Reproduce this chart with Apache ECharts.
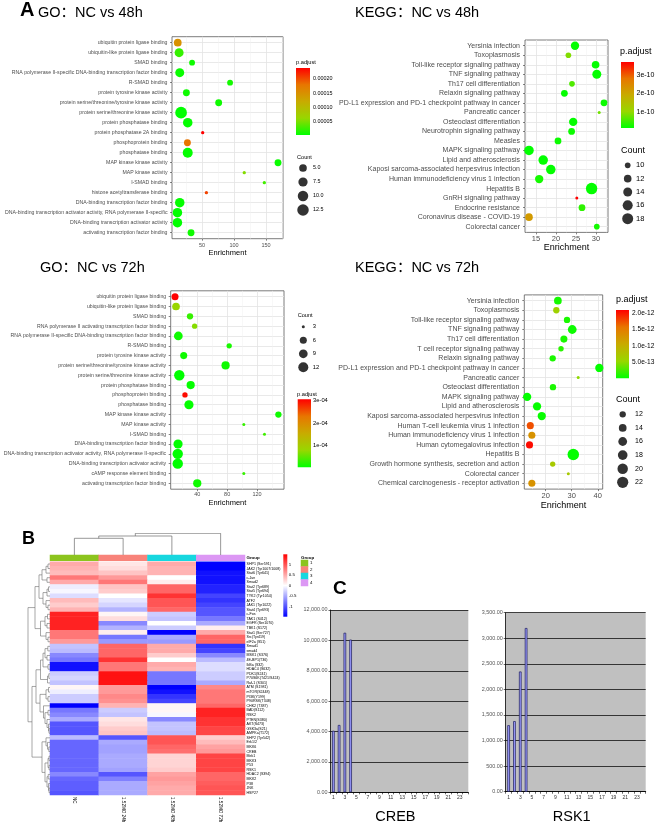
<!DOCTYPE html>
<html><head><meta charset="utf-8">
<script src="https://cdn.jsdelivr.net/npm/echarts@6/dist/echarts.min.js"></script>
<style>html,body{margin:0;padding:0;background:#fff}#c{width:659px;height:826px}</style>
</head><body><div id="c"></div>
<script>
// ---------------- DATA ----------------
const go48Terms = ['ubiquitin protein ligase binding','ubiquitin-like protein ligase binding','SMAD binding','RNA polymerase II-specific DNA-binding transcription factor binding','R-SMAD binding','protein tyrosine kinase activity','protein serine/threonine/tyrosine kinase activity','protein serine/threonine kinase activity','protein phosphatase binding','protein phosphatase 2A binding','phosphoprotein binding','phosphatase binding','MAP kinase kinase activity','MAP kinase activity','I-SMAD binding','histone acetyltransferase binding','DNA-binding transcription factor binding','DNA-binding transcription activator activity, RNA polymerase II-specific','DNA-binding transcription activator activity','activating transcription factor binding'];
const go48Enrich = [12.0,14.1,34.4,15.1,93.8,25.5,76,17.2,27.6,51,27.1,27.6,168.8,116,147.4,56.8,15.1,11.5,11.5,32.8];
const go48Count = [5,7,3,7,3,4,4,13,8,2,4,9,4,2,2,2,8,8,8,4];
const go48Padj = [1.5e-4,2.5e-5,1.0e-5,8e-6,1.2e-5,1e-5,1e-5,5e-6,6e-6,2.38e-4,1.8e-4,6e-6,8e-6,5.5e-5,3e-5,2.05e-4,6e-6,5e-6,5e-6,1e-5];
const go48XTicks = [50,100,150];
const go48PBreaks = [0.00005,0.0001,0.00015,0.0002];
const go48PLabels = ['0.00005','0.00010','0.00015','0.00020'];
const go48CountBreaks = [5,7.5,10,12.5];
const go48CountLabels = ['5.0','7.5','10.0','12.5'];

const kegg48Terms = ['Yersinia infection','Toxoplasmosis','Toll-like receptor signaling pathway','TNF signaling pathway','Th17 cell differentiation','Relaxin signaling pathway','PD-L1 expression and PD-1 checkpoint pathway in cancer','Pancreatic cancer','Osteoclast differentiation','Neurotrophin signaling pathway','Measles','MAPK signaling pathway','Lipid and atherosclerosis','Kaposi sarcoma-associated herpesvirus infection','Human immunodeficiency virus 1 infection','Hepatitis B','GnRH signaling pathway','Endocrine resistance','Coronavirus disease - COVID-19','Colorectal cancer'];
const kegg48Enrich = [24.75,23.1,29.9,30.2,24.0,22.1,32.0,30.8,24.3,23.9,20.5,13.25,16.8,18.7,15.8,28.9,25.2,26.5,13.25,30.2];
const kegg48Count = [13,10,12,14,10,11,11,9,13,11,11,15,15,15,13,19,9,11,12,10];
const kegg48Padj = [1.5e-11,9e-11,1.5e-11,1.5e-11,6e-11,1.5e-11,2e-11,8e-11,1.5e-11,2e-11,2e-11,1.4e-11,1.4e-11,1.5e-11,2.5e-11,1.5e-11,3.7e-10,4e-11,2.2e-10,2.5e-11];
const kegg48XTicks = [15,20,25,30];
const kegg48PBreaks = [1e-10,2e-10,3e-10];
const kegg48PLabels = ['1e-10','2e-10','3e-10'];
const kegg48CountBreaks = [10,12,14,16,18];
const kegg48CountLabels = ['10','12','14','16','18'];

const go72Terms = ['ubiquitin protein ligase binding','ubiquitin-like protein ligase binding','SMAD binding','RNA polymerase II activating transcription factor binding','RNA polymerase II-specific DNA-binding transcription factor binding','R-SMAD binding','protein tyrosine kinase activity','protein serine/threonine/tyrosine kinase activity','protein serine/threonine kinase activity','protein phosphatase binding','phosphoprotein binding','phosphatase binding','MAP kinase kinase activity','MAP kinase activity','I-SMAD binding','DNA-binding transcription factor binding','DNA-binding transcription activator activity, RNA polymerase II-specific','DNA-binding transcription activator activity','cAMP response element binding','activating transcription factor binding'];
const go72Enrich = [10.3,11.6,30.3,36.5,14.7,82.7,21.9,77.9,16.0,31.2,23.6,28.9,148.5,102.3,129.9,14.3,13.9,13.9,102.3,40.0];
const go72Count = [6,7,5,4,9,4,6,8,13,8,4,10,5,3,3,10,13,13,3,8];
const go72Padj = [3.07e-4,8e-5,3e-5,7e-5,1e-5,1.5e-5,1e-5,1e-5,3e-6,5e-6,3.0e-4,5e-6,1e-5,3e-5,3.5e-5,4e-6,3e-6,3e-6,3e-5,1e-5];
const go72XTicks = [40,80,120];
const go72PBreaks = [1e-4,2e-4,3e-4];
const go72PLabels = ['1e-04','2e-04','3e-04'];
const go72CountBreaks = [3,6,9,12];
const go72CountLabels = ['3','6','9','12'];

const kegg72Terms = ['Yersinia infection','Toxoplasmosis','Toll-like receptor signaling pathway','TNF signaling pathway','Th17 cell differentiation','T cell receptor signaling pathway','Relaxin signaling pathway','PD-L1 expression and PD-1 checkpoint pathway in cancer','Pancreatic cancer','Osteoclast differentiation','MAPK signaling pathway','Lipid and atherosclerosis','Kaposi sarcoma-associated herpesvirus infection','Human T-cell leukemia virus 1 infection','Human immunodeficiency virus 1 infection','Human cytomegalovirus infection','Hepatitis B','Growth hormone synthesis, secretion and action','Colorectal cancer','Chemical carcinogenesis - receptor activation'];
const kegg72Enrich = [24.7,24.1,28.2,30.2,27.0,25.9,22.7,40.6,32.5,22.8,12.9,16.7,18.5,14.1,14.7,13.8,30.6,22.7,28.7,14.7];
const kegg72Count = [14,12,12,16,13,11,12,15,10,12,15,15,15,13,13,13,23,11,10,13];
const kegg72Padj = [8e-14,6e-13,1e-13,5e-14,1e-13,1.5e-13,1e-13,2e-14,5e-13,1e-13,2e-14,3e-14,3e-14,1.75e-12,1.3e-12,2.05e-12,2e-14,7e-13,7e-13,1.3e-12];
const kegg72XTicks = [20,30,40];
const kegg72PBreaks = [5e-13,1e-12,1.5e-12,2e-12];
const kegg72PLabels = ['5.0e-13','1.0e-12','1.5e-12','2.0e-12'];
const kegg72CountBreaks = [12,14,16,18,20,22];
const kegg72CountLabels = ['12','14','16','18','20','22'];

const heatCols = ['NC','1.52MO 24h','1.52MO 48h','1.52MO 72h'];
const heatGroups = [1,2,3,4];
const heatRows = ['SHP1 (Ser591)','JAK2 (Tyr1007/1008)','Stat6 (Tyr641)','c-Jun','Smad2','Stat2 (Tyr689)','Stat5 (Tyr694)','TYK2 (Tyr1054)','ATF2','JAK1 (Tyr1022)','Stat4 (Tyr693)','c-Fos','TAK1 (S412)','EGFR (Ser1070)','TBK1 (S172)','Stat1 (Ser727)','Src(Tyr419)','eIF2a (S51)','Smad1','smad4','MSK1 (S376)','4E-BP1(T36)','IkBa (S32)','HDAC4 (S632)','PDK1(S241)','P70S6K(T421/S424)','Raf-1 (S301)','ATM (S1981)','mTOR(S2448)','PI3K(Y199)','P90RSK(T348)','CHK2 (T387)','BAD(S112)','RSK2','PTEN(S380)','AKT(S473)','GSK3a(S21)','AMPKa(T172)','SHP2 (Tyr542)','Erk1/2','MKK6','CREB','Mek1','MKK3','P53','RSK1','HDAC2 (S394)','MKK2','P38','JNK','HSP27'];
const heatNC  = [0.5,0.45,0.4,0.8,0.5,-0.1,-0.05,-0.2,0.4,0.3,0.45,1.3,1.3,1.3,1.3,0.8,0.8,0.6,-0.35,-0.4,-0.7,-0.8,-1.4,-1.4,-0.3,-0.25,-0.35,0.05,-0.1,-0.3,-0.3,-1.5,-0.8,-0.7,-0.5,-1.0,-1.0,-1.0,-0.4,-0.9,-0.9,-0.9,-0.9,-0.9,-0.9,-0.9,-0.7,-0.9,-0.95,-0.95,-1.0];
const heat24h = [0.15,0.2,0.35,0.6,0.8,0.35,0.3,0,-0.15,-0.25,-0.45,0.05,0.2,-0.7,-0.45,0.1,-0.8,-0.6,0.9,0.9,0.9,1.2,0.8,0.8,1.4,1.4,1.4,0.6,0.6,0.7,0.65,0.45,-0.3,-0.35,0.15,0.2,0.3,0.35,-1.0,-0.5,-0.55,-0.55,-0.5,-0.5,-0.5,-0.55,-1.0,-0.75,-0.5,-0.5,-0.5];
const heat48h = [0.5,0.45,0.45,0,0.1,0.9,0.9,1.2,1.0,1.0,0.9,-0.3,-0.35,0,-0.3,-1.5,-0.5,-0.6,0.5,0.5,0.3,0,0.5,0.45,-0.8,-0.8,-0.8,-1.5,-1.4,-1.2,-1.1,0.05,0.05,-0.05,-0.7,-0.35,-0.35,-0.4,1.0,1.0,0.9,0.85,0.25,0.25,0.25,0.3,0.55,0.6,0.55,0.5,0.5];
const heat72h = [-1.5,-1.5,-1.4,-1.4,-1.4,-1.3,-1.3,-1.1,-1.2,-1.1,-1.0,-1.0,-0.8,-0.5,0.1,0.5,0.9,0.9,-1.2,-1.1,-0.7,-0.4,-0.2,-0.2,-0.3,-0.3,-0.5,0.7,0.8,0.8,0.8,0.9,1.3,1.3,1.2,1.2,1.1,1.1,0.3,0.4,0.55,0.6,1.1,1.1,1.1,1.1,0.9,0.9,0.95,1.0,1.0];
const heatBreaks = [-1,-0.5,0,0.5,1];
// dendrograms: [height, left, right], leaves = row/column index
const colTree = [21.7,[19,[16.7,0,1],2],3];
const rowTree = [22,
  [15,[11,[8,[4,[2,0,1],2],[3,3,4]],[7,[3,[1.5,5,6],7],[4,8,[2,9,10]]]],[9.5,[5,[2.5,11,12],[3,13,14]],[4,15,[2,16,17]]]],
  [18,[14,[9.5,[7,[5,[2.2,18,19],[3,20,21]],[2,22,23]],[2.5,[1.2,24,25],26]],
            [10,[4,[1.5,27,28],[2,29,30]],[6.5,31,[5,[2,32,33],[3,34,[1.5,35,[1,36,37]]]]]]],
       [8,[4,38,[2.5,39,[1.2,40,41]]],[5,[2,[1,42,43],[1,44,45]],[3,[1.8,46,47],[1.5,48,[1,49,50]]]]]]];

const barCats = ['1','2','3','4','5','6','7','8','9','10','11','12','13','14','15','16','17','18','19','20','21','22','23','24'];
const crebValues = [4050,4430,10500,10050,null,null,null,null,null,null,null,null,null,null,null,null,null,null,null,null,null,null,null,null];
const rsk1Values = [1300,1380,2350,3200,null,null,null,null,null,null,null,null,null,null,null,null,null,null,null,null,null,null,null,null];

// ---------------- BUILD ----------------
const FAM = "'Liberation Sans','Noto Sans CJK SC',Arial,sans-serif";
const GR = ['#00ff00','#98d700','#c8ab00','#e87600','#ff0000'];
const GROUP_COLORS = ['#8cc41e','#f8837a','#17d7df','#dc97f4'];
const grids=[], xAxes=[], yAxes=[], series=[], visualMaps=[], graphics=[];
const addGrid=g=>{grids.push(g);return grids.length-1;};
const addX=a=>{xAxes.push(a);return xAxes.length-1;};
const addY=a=>{yAxes.push(a);return yAxes.length-1;};
const addS=s=>{series.push(s);return series.length-1;};
function txt(x,y,s,size,opt){
  opt=opt||{};
  graphics.push({type:'text',x:x,y:y,z:50,silent:true,style:{text:s,fontSize:size,fontFamily:FAM,fontWeight:opt.bold?'bold':'normal',fill:opt.color||'#000',
    align:opt.align||'left',verticalAlign:'middle',textAlign:opt.align||'left',textVerticalAlign:'middle'}});
}
function gradRect(stops){
  return (p,api)=>{
    const a=api.coord([0,api.value(2)]), b=api.coord([1,api.value(1)]);
    return {type:'rect',shape:{x:a[0],y:a[1],width:b[0]-a[0],height:b[1]-a[1]},
      style:{fill:new echarts.graphic.LinearGradient(0,1,0,0,stops.map((c,i)=>({offset:i/(stops.length-1),color:c})))}};
  };
}
function colorBar(o){
  const g=addGrid({left:o.l,top:o.t,width:o.w,height:o.h});
  const x=addX({gridIndex:g,type:'value',min:0,max:1,show:false});
  const nearest=v=>{let k=0,d=Infinity;o.breaks.forEach((b,i)=>{const e=Math.abs(b-v);if(e<d){d=e;k=i;}});return k;};
  const y=addY({gridIndex:g,type:'value',min:o.min,max:o.max,position:'right',axisLine:{show:false},
    axisTick:{show:o.ticks,inside:true,length:o.w*0.2,customValues:o.breaks,lineStyle:{color:'#fff',width:0.8}},
    axisLabel:{customValues:o.breaks,formatter:v=>o.labels[nearest(v)],fontSize:o.font,color:'#000',margin:o.margin,fontFamily:FAM},
    splitLine:{show:false}});
  if(o.ticks){
    addY({gridIndex:g,type:'value',min:o.min,max:o.max,position:'left',axisLine:{show:false},
      axisTick:{show:true,inside:true,length:o.w*0.2,customValues:o.breaks,lineStyle:{color:'#fff',width:0.8}},
      axisLabel:{show:false,customValues:o.breaks},splitLine:{show:false}});
  }
  addS({type:'custom',xAxisIndex:x,yAxisIndex:y,silent:true,z:1,data:[[0,o.min,o.max]],renderItem:gradRect(o.stops)});
}
function bubblePanel(o){
  const n=o.terms.length;
  const gi=addGrid({left:o.box[0],top:o.box[1],width:o.box[2]-o.box[0],height:o.box[3]-o.box[1],show:true,borderColor:'#5a5a5a',borderWidth:0.8,backgroundColor:'#fff'});
  const xi=addX({gridIndex:gi,type:'value',min:o.xMin,max:o.xMax,axisLine:{show:false},
    axisTick:{show:true,length:2,customValues:o.xMajor,lineStyle:{color:'#333',width:0.6}},
    axisLabel:{customValues:o.xMajor,fontSize:o.xFont,color:'#4d4d4d',margin:o.xMargin,fontFamily:FAM},
    splitLine:{show:true,lineStyle:{color:'#e3e3e3',width:0.8}},
    name:'Enrichment',nameLocation:'middle',nameGap:o.nameGap,nameTextStyle:{fontSize:o.nameFont,color:'#000',fontFamily:FAM}});
  addX({gridIndex:gi,type:'value',position:'top',min:o.xMin,max:o.xMax,axisLine:{show:false},
    axisTick:{show:false,customValues:o.xMinor},axisLabel:{show:false,customValues:o.xMinor},
    splitLine:{show:true,lineStyle:{color:'#f0f0f0',width:0.5}}});
  const rows=o.terms.map((t,i)=>i+1);
  const yi=addY({gridIndex:gi,type:'value',min:0.4,max:n+0.6,inverse:true,axisLine:{show:false},
    axisTick:{show:true,length:2,customValues:rows,lineStyle:{color:'#333',width:0.6}},
    axisLabel:{customValues:rows,formatter:v=>o.terms[Math.round(v)-1]||'',fontSize:o.yFont,color:'#4d4d4d',margin:o.yMargin,fontFamily:FAM},
    splitLine:{show:true,lineStyle:{color:'#e3e3e3',width:0.8}}});
  const cmin=Math.min(...o.count), cmax=Math.max(...o.count);
  const sz=c=>o.r0+(o.r1-o.r0)*Math.sqrt(Math.max(0,(c-cmin)/(cmax-cmin)));
  const si=addS({type:'scatter',xAxisIndex:xi,yAxisIndex:yi,z:5,
    data:o.terms.map((t,i)=>[o.enrich[i],i+1,o.count[i],o.padj[i]]),
    symbolSize:v=>sz(v[2]),itemStyle:{opacity:1}});
  visualMaps.push({type:'continuous',show:false,seriesIndex:si,dimension:3,min:o.pMin,max:o.pMax,inRange:{color:GR}});
  colorBar({l:o.cb[0],t:o.cb[1],w:o.cb[2],h:o.cb[3],min:o.pMin,max:o.pMax,breaks:o.pBreaks,labels:o.pLabels,font:o.cbFont,margin:o.cbMargin,stops:GR,ticks:true});
  txt(o.pTitle[0],o.pTitle[1],'p.adjust',o.pTitle[2]);
  const cl=o.cl, half=cl.labelX-cl.x-1;
  const lg=addGrid({left:cl.x-half,top:cl.y0-cl.dy/2,width:2*half,height:cl.dy*o.cBreaks.length});
  const lx=addX({gridIndex:lg,type:'value',min:-1,max:1,show:false});
  const ly=addY({gridIndex:lg,type:'category',data:o.cLabels,inverse:true,position:'right',axisLine:{show:false},axisTick:{show:false},
    axisLabel:{interval:0,fontSize:cl.font,color:'#000',margin:1,fontFamily:FAM},splitLine:{show:false}});
  addS({type:'scatter',xAxisIndex:lx,yAxisIndex:ly,data:o.cBreaks.map((c,i)=>[0,i,c]),symbolSize:v=>sz(v[2]),itemStyle:{color:'#000'},silent:true});
  txt(o.cTitle[0],o.cTitle[1],'Count',o.cTitle[2]);
}

// Panel titles
txt(20,10.5,'A',20,{bold:true});
txt(38,12.5,'GO：NC vs 48h',14.5);
txt(355,12.5,'KEGG：NC vs 48h',14.5);
txt(40,267.5,'GO：NC vs 72h',14.5);
txt(355,267.5,'KEGG：NC vs 72h',14.5);

bubblePanel({terms:go48Terms,enrich:go48Enrich,count:go48Count,padj:go48Padj,
  box:[172,36.7,283,238.7],xMin:3,xMax:176.6,xMajor:go48XTicks,xMinor:[25,75,125,175],
  yFont:5.2,yMargin:4.5,xFont:5.5,xMargin:4,nameFont:7.5,nameGap:10.5,r0:3.3,r1:11.7,
  pMin:4.5e-6,pMax:2.38e-4,cb:[296,68,14,67],pBreaks:go48PBreaks,pLabels:go48PLabels,cbFont:5.4,cbMargin:3,pTitle:[296,62,5.7],
  cBreaks:go48CountBreaks,cLabels:go48CountLabels,cl:{x:303,y0:168,dy:14,labelX:313,font:5.4},cTitle:[297,157,5.6]});

bubblePanel({terms:kegg48Terms,enrich:kegg48Enrich,count:kegg48Count,padj:kegg48Padj,
  box:[525,40,608,232.4],xMin:12.25,xMax:33,xMajor:kegg48XTicks,xMinor:[12.5,17.5,22.5,27.5,32.5],
  yFont:7,yMargin:5,xFont:7.5,xMargin:2.5,nameFont:9,nameGap:11,r0:3,r1:11.43,
  pMin:1.35e-11,pMax:3.7e-10,cb:[621,62,13,66],pBreaks:kegg48PBreaks,pLabels:kegg48PLabels,cbFont:7,cbMargin:2.5,pTitle:[620,52,9],
  cBreaks:kegg48CountBreaks,cLabels:kegg48CountLabels,cl:{x:627.7,y0:165.3,dy:13.35,labelX:636,font:7.5},cTitle:[621,151,9]});

bubblePanel({terms:go72Terms,enrich:go72Enrich,count:go72Count,padj:go72Padj,
  box:[170.7,290.8,284,489.2],xMin:4.5,xMax:156,xMajor:go72XTicks,xMinor:[20,60,100,140],
  yFont:5.2,yMargin:4.5,xFont:5.5,xMargin:3,nameFont:7.5,nameGap:10,r0:3,r1:10.4,
  pMin:3e-6,pMax:3.07e-4,cb:[297.7,399.3,13.3,68],pBreaks:go72PBreaks,pLabels:go72PLabels,cbFont:5.8,cbMargin:2,pTitle:[297,394,5.7],
  cBreaks:go72CountBreaks,cLabels:go72CountLabels,cl:{x:303.3,y0:326.7,dy:13.53,labelX:312.7,font:5.8},cTitle:[297.7,315.3,5.6]});

bubblePanel({terms:kegg72Terms,enrich:kegg72Enrich,count:kegg72Count,padj:kegg72Padj,
  box:[524.3,294.9,602.7,489.1],xMin:11.8,xMax:41.9,xMajor:kegg72XTicks,xMinor:[15,25,35],
  yFont:7,yMargin:5,xFont:7.5,xMargin:3.5,nameFont:9,nameGap:12.4,r0:3,r1:11.5,
  pMin:1e-14,pMax:2.1e-12,cb:[616,310,13,68.3],pBreaks:kegg72PBreaks,pLabels:kegg72PLabels,cbFont:6.6,cbMargin:3,pTitle:[616,300,9],
  cBreaks:kegg72CountBreaks,cLabels:kegg72CountLabels,cl:{x:622.7,y0:414.3,dy:13.6,labelX:635,font:7},cTitle:[616,399.3,9]});

// ---------------- B: heatmap ----------------
txt(22,539.5,'B',18,{bold:true});
const HM={l:50,t:561.7,w:195,h:233.3};
const hg=addGrid({left:HM.l,top:HM.t,width:HM.w,height:HM.h});
const hx=addX({gridIndex:hg,type:'category',data:heatCols,position:'bottom',axisLine:{show:false},axisTick:{show:false},
  axisLabel:{interval:0,rotate:-90,fontSize:4.6,margin:2,color:'#000',fontFamily:FAM},splitLine:{show:false}});
const hy=addY({gridIndex:hg,type:'category',data:heatRows,inverse:true,position:'right',axisLine:{show:false},axisTick:{show:false},
  axisLabel:{interval:0,fontSize:3.6,margin:1.5,color:'#000',fontFamily:FAM},splitLine:{show:false}});
const hdata=[];
const heatCols4=[heatNC,heat24h,heat48h,heat72h];
heatRows.forEach((r,i)=>heatCols4.forEach((arr,j)=>hdata.push([j,i,arr[i]])));
const hs=addS({type:'heatmap',xAxisIndex:hx,yAxisIndex:hy,data:hdata,itemStyle:{borderWidth:0}});
const HCOL=['#0000ff','#ffffff','#ff0000'];
visualMaps.push({type:'continuous',show:false,seriesIndex:hs,dimension:2,min:-1.5,max:1.5,inRange:{color:HCOL}});
const ag=addGrid({left:HM.l,top:555,width:HM.w,height:5.7});
const ax=addX({gridIndex:ag,type:'category',data:heatCols,show:false});
const ay=addY({gridIndex:ag,type:'category',data:['Group'],position:'right',axisLine:{show:false},axisTick:{show:false},
  axisLabel:{fontSize:4.4,fontWeight:'bold',margin:1.5,color:'#000',fontFamily:FAM}});
const as1=addS({type:'heatmap',xAxisIndex:ax,yAxisIndex:ay,data:heatGroups.map((g,j)=>[j,0,g]),itemStyle:{borderWidth:0}});
txt(301,557.7,'Group',4.4,{bold:true});
const glg=addGrid({left:301,top:560,width:7,height:26});
const glx=addX({gridIndex:glg,type:'category',data:['g'],show:false});
const gly=addY({gridIndex:glg,type:'category',data:heatGroups.map(String),inverse:true,position:'right',axisLine:{show:false},axisTick:{show:false},
  axisLabel:{interval:0,fontSize:4.4,margin:2,color:'#000',fontFamily:FAM}});
const as2=addS({type:'heatmap',xAxisIndex:glx,yAxisIndex:gly,data:heatGroups.map((g,k)=>[0,k,g]),itemStyle:{borderWidth:0}});
visualMaps.push({type:'piecewise',show:false,seriesIndex:[as1,as2],dimension:2,pieces:heatGroups.map((g,k)=>({value:g,color:GROUP_COLORS[k]}))});
colorBar({l:283.3,t:554.3,w:4,h:62.4,min:-1.5,max:1.5,breaks:heatBreaks,labels:heatBreaks.map(String),font:4.4,margin:1.5,stops:HCOL,ticks:false});
function treeSegs(node,out){
  if(typeof node==='number') return {p:node,h:0};
  const L=treeSegs(node[1],out), R=treeSegs(node[2],out);
  out.push([L,R,node[0]]);
  return {p:(L.p+R.p)/2,h:node[0]};
}
const rSegs=[]; treeSegs(rowTree,rSegs);
const rg=addGrid({left:28,top:HM.t,width:HM.l-28,height:HM.h});
const rx=addX({gridIndex:rg,type:'value',min:0,max:rowTree[0],inverse:true,show:false});
const ry=addY({gridIndex:rg,type:'value',min:-0.5,max:heatRows.length-0.5,inverse:true,show:false});
addS({type:'lines',coordinateSystem:'cartesian2d',xAxisIndex:rx,yAxisIndex:ry,polyline:true,silent:true,
  lineStyle:{color:'#6b6b6b',width:0.6,opacity:1},
  data:rSegs.map(([L,R,h])=>({coords:[[L.h,L.p],[h,L.p],[h,R.p],[R.h,R.p]]}))});
const cSegs=[]; treeSegs(colTree,cSegs);
const cg=addGrid({left:HM.l,top:555-colTree[0],width:HM.w,height:colTree[0]});
const cx=addX({gridIndex:cg,type:'value',min:-0.5,max:heatCols.length-0.5,show:false});
const cy=addY({gridIndex:cg,type:'value',min:0,max:colTree[0],show:false});
addS({type:'lines',coordinateSystem:'cartesian2d',xAxisIndex:cx,yAxisIndex:cy,polyline:true,silent:true,
  lineStyle:{color:'#6b6b6b',width:0.7,opacity:1},
  data:cSegs.map(([L,R,h])=>({coords:[[L.p,L.h],[L.p,h],[R.p,h],[R.p,R.h]]}))});

// ---------------- C: bar charts ----------------
txt(333,588.5,'C',19,{bold:true});
function fmtNum(v){return Math.round(v).toString().replace(/\B(?=(\d{3})+(?!\d))/g,',')+'.00';}
function barChart(o){
  const g=addGrid({left:o.box[0],top:o.box[1],width:o.box[2]-o.box[0],height:o.box[3]-o.box[1],show:true,backgroundColor:'#c0c0c0',borderWidth:0});
  const x=addX({gridIndex:g,type:'category',data:barCats,axisLine:{lineStyle:{color:'#000',width:0.8}},
    axisTick:{show:true,interval:0,length:2,lineStyle:{color:'#000',width:0.6}},
    axisLabel:{interval:1,fontSize:5,color:'#333',margin:3,fontFamily:FAM}});
  const y=addY({gridIndex:g,type:'value',min:0,max:o.max,interval:o.step,
    axisLine:{show:true,lineStyle:{color:'#000',width:0.8}},axisTick:{show:true,length:2,lineStyle:{color:'#000',width:0.6}},
    axisLabel:{formatter:fmtNum,fontSize:5.4,color:'#555',margin:3,fontFamily:FAM},
    splitLine:{show:true,lineStyle:{color:'#111',width:0.8}}});
  addS({type:'bar',xAxisIndex:x,yAxisIndex:y,data:o.values,barWidth:2.6,
    itemStyle:{color:'#9b9bff',borderColor:'#1c1c5a',borderWidth:0.7}});
  txt((o.box[0]+o.box[2])/2-4,816.7,o.name,14.5,{align:'center'});
}
barChart({box:[330.5,610,468.3,792.3],max:12000,step:2000,values:crebValues,name:'CREB'});
barChart({box:[505.7,612.7,645.7,791.7],max:3500,step:500,values:rsk1Values,name:'RSK1'});

const chart=echarts.init(document.getElementById('c'),null,{renderer:'canvas'});
chart.setOption({animation:false,backgroundColor:'#fff',textStyle:{fontFamily:FAM},
  grid:grids,xAxis:xAxes,yAxis:yAxes,series:series,visualMap:visualMaps,graphic:{elements:graphics}});
</script></body></html>
